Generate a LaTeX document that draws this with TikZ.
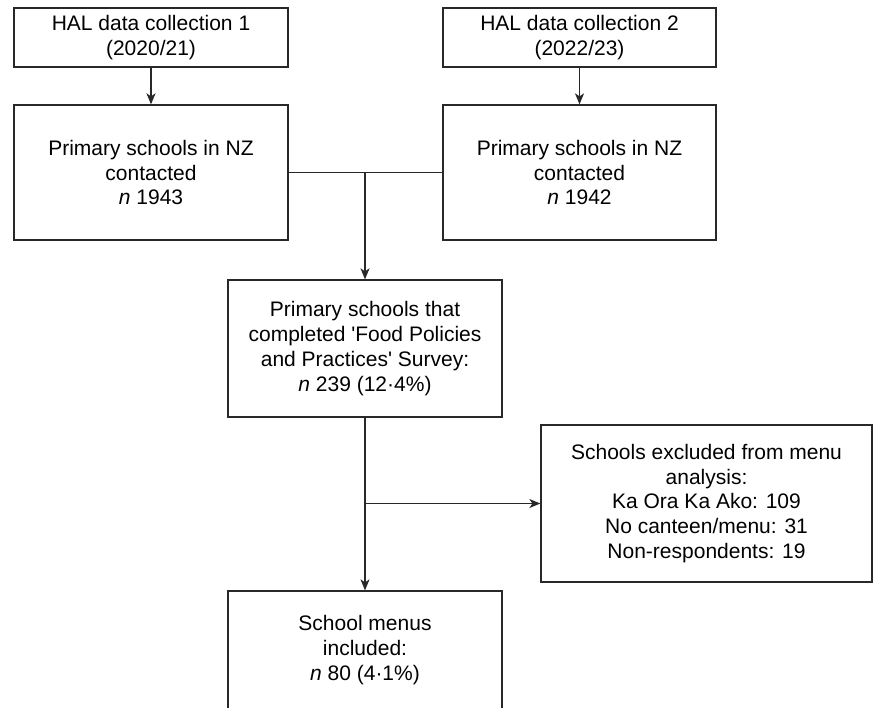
\documentclass[tikz,border=0pt]{standalone}
\usepackage{fontspec}
\setmainfont{Liberation Sans}
\usepackage{tikz}
\usetikzlibrary{arrows.meta}
\definecolor{L}{RGB}{40, 40, 40}

\begin{document}
\begin{tikzpicture}[x=0.5pt, y=-0.5pt,
    box/.style={draw=L, line width=0.65pt, fill=white, align=center, inner sep=0pt,
        font=\fontsize{10.5}{12.4}\selectfont},
    flecha/.style={draw=L, line width=0.65pt, -{Stealth[length=5.5pt, width=4.5pt, inset=1.5pt]}}]
    \clip (0,0) rectangle (876,707);

    %Recoleccion de datos
    \node[box, minimum width=137pt, minimum height=29.5pt] (hal1) at (151,37.5)
        {HAL data collection 1\\(2020/21)};
    \node[box, minimum width=136.5pt, minimum height=29.5pt] (hal2) at (579.5,37.5)
        {HAL data collection 2\\(2022/23)};

    %Escuelas contactadas
    \node[box, minimum width=137pt, minimum height=67.5pt] (prim1) at (151,172.5)
        {Primary schools in NZ\\contacted\\\textit{n} 1943};
    \node[box, minimum width=136.5pt, minimum height=67.5pt] (prim2) at (579.5,172.5)
        {Primary schools in NZ\\contacted\\\textit{n} 1942};

    %Encuesta
    \node[box, minimum width=137pt, minimum height=68.5pt] (survey) at (365,348.5)
        {Primary schools that\\completed \textquotesingle Food Policies\\and Practices\textquotesingle\ Survey:\\\textit{n} 239 (12·4\%)};

    %Excluidas
    \node[box, minimum width=165.5pt, minimum height=78.5pt] (excl) at (706.5,503.5)
        {Schools excluded from menu\\analysis:\\Ka Ora Ka Ako: 109\\No canteen/menu: 31\\Non-respondents: 19};

    %Menus incluidos (la caja sigue bajo el borde)
    \node[box, minimum width=137pt, minimum height=59pt] (menus) at (365,650)
        {School menus\\included:\\\textit{n} 80 (4·1\%)};

    %Conectores
    \draw[flecha] (hal1) -- (prim1);
    \draw[flecha] (hal2) -- (prim2);
    \draw[draw=L, line width=0.65pt] (prim1.east) -- (prim2.west);
    \coordinate (union) at (survey.north |- prim1.east);
    \draw[flecha] (union) -- (survey.north);
    \draw[flecha] (survey) -- (menus);
    \coordinate (rama) at (survey.south |- excl.west);
    \draw[flecha] (rama) -- (excl.west);
\end{tikzpicture}
\end{document}
